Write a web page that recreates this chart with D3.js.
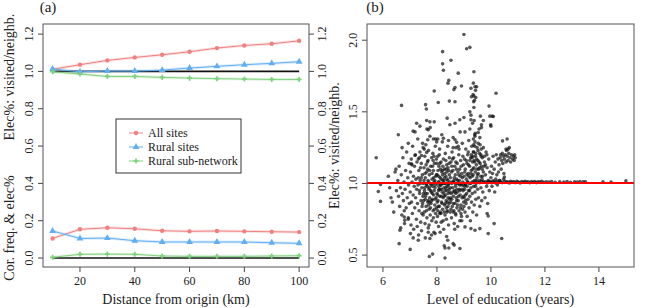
<!DOCTYPE html>
<html>
<head>
<meta charset="utf-8">
<script src="https://cdn.jsdelivr.net/npm/d3@7"></script>
<style>
  html, body { margin: 0; padding: 0; background: #fff; }
  svg { display: block; }
</style>
</head>
<body>
<div id="chart"></div>
<script>
// ---- panel (a) data ----
const distances = [10, 20, 30, 40, 50, 60, 70, 80, 90, 100]
const elecAll = [1.011, 1.036, 1.059, 1.075, 1.089, 1.105, 1.125, 1.139, 1.148, 1.164]
const elecRural = [1.013, 0.998, 1.002, 1.002, 1.007, 1.018, 1.027, 1.036, 1.043, 1.052]
const elecSub = [0.998, 0.986, 0.973, 0.973, 0.968, 0.964, 0.961, 0.959, 0.957, 0.957]
const corAll = [0.105, 0.154, 0.162, 0.157, 0.146, 0.143, 0.145, 0.143, 0.141, 0.139]
const corRural = [0.145, 0.105, 0.107, 0.093, 0.086, 0.086, 0.086, 0.086, 0.082, 0.079]
const corSub = [0.004, 0.02, 0.021, 0.02, 0.011, 0.009, 0.009, 0.009, 0.011, 0.0125]
const seriesNames = ['All sites', 'Rural sites', 'Rural sub-network']
const xTicksA = [20, 40, 60, 80, 100]
const yTicksA = [0, 0.2, 0.4, 0.6, 0.8, 1.0, 1.2]

// ---- panel (b) data: [education years, elec% ratio] ----
const highPts = [
  [9.0,2.04],[9.1,1.94],[9.22,1.95],[8.21,1.92],[8.52,1.86],[8.21,1.835],[8.24,1.79],[8.79,1.77],[9.37,1.78],
  [8.44,1.72],[8.41,1.70],[8.67,1.67],[8.63,1.655],[8.91,1.68],[9.35,1.70],[9.41,1.675],[9.26,1.665],[9.47,1.675],
  [9.43,1.65],[7.90,1.645],[10.19,1.63],[9.28,1.605],[9.37,1.61],[9.44,1.60],[9.36,1.57],[6.69,1.545],[7.58,1.55],
  [7.61,1.52],[8.05,1.565],[8.46,1.575],[8.67,1.57],[9.93,1.54],[10.05,1.47],[6.57,1.34],[6.94,1.28],[7.25,1.42],
  [7.37,1.40],[7.12,1.365],[7.62,1.44],[7.74,1.43],[7.90,1.43],[7.68,1.375],[7.75,1.39],[8.38,1.456],[8.48,1.41],
  [8.67,1.42],[8.85,1.445],[9.0,1.46],[9.22,1.5],[9.26,1.477],[9.26,1.445],[9.65,1.41],[9.72,1.44],[9.96,1.47],
  [10.09,1.467],[9.99,1.41],[10.0,1.40],[7.66,1.305],[7.87,1.31],[7.99,1.29],[8.24,1.315],[8.03,1.31],[8.67,1.305],
  [8.73,1.287],[8.60,1.25],[8.79,1.26],[9.04,1.36],[9.22,1.38],[9.41,1.33],[9.53,1.356],[9.65,1.39],[9.59,1.32],
  [7.49,1.25],[7.62,1.217],[7.43,1.195],[7.19,1.195],[7.06,1.137],[7.31,1.17],[10.43,1.297],[10.6,1.31],[10.68,1.25],
  [10.64,1.24],[10.56,1.24]
]
const lowPts = [
  [5.75,1.18],[5.83,0.944],[5.91,0.993],[5.91,0.875],[6.2,1.05],[6.3,0.9],[6.35,0.87],[6.45,1.08],[6.5,0.95],
  [6.48,1.1],[6.4,0.8],[6.25,0.97],[6.63,0.674],[6.6,0.58],[7.02,0.65],[7.01,0.54],[7.31,0.604],[7.57,0.62],
  [7.68,0.66],[7.72,0.49],[7.84,0.507],[8.3,0.48],[8.27,0.565],[8.3,0.55],[8.4,0.604],[8.44,0.55],[8.6,0.58],
  [8.64,0.57],[8.85,0.546],[7.93,0.65],[7.74,0.616],[9.04,0.697],[9.26,0.685],[9.41,0.674],[9.59,0.685],[9.9,0.65],
  [10.12,0.72],[10.4,0.616],[6.79,0.766],[6.94,0.75],[6.81,0.743],[9.86,0.79],[9.9,0.773]
]
const cloudPts = [
  [6.55,1.02],[6.58,0.91],[6.6,1.12],[6.62,0.84],[6.65,0.97],[6.68,1.06],[6.7,0.78],[6.72,0.93],[6.74,1.18],
  [6.76,0.88],[6.78,1.01],[6.8,0.72],[6.82,0.96],[6.84,1.09],[6.86,0.83],[6.88,1.22],[6.9,0.9],[6.92,1.04],
  [6.94,0.76],[6.95,0.99],[6.97,1.14],[6.98,0.86],[6.66,0.69],[6.71,1.25],[6.79,0.81],
  [7.01,0.94],[7.02,1.08],[7.04,0.71],[7.05,1.17],[7.06,0.87],[7.08,1.01],[7.09,0.79],[7.1,1.26],[7.12,0.92],
  [7.13,1.05],[7.14,0.68],[7.16,0.98],[7.17,1.12],[7.18,0.83],[7.2,1.2],[7.21,0.9],[7.22,1.03],[7.24,0.75],
  [7.25,0.96],[7.26,1.15],[7.28,0.86],[7.29,1.31],[7.3,0.99],[7.32,0.64],[7.33,1.09],[7.34,0.81],[7.36,0.93],
  [7.37,1.22],[7.38,1.02],[7.4,0.73],[7.41,0.88],[7.42,1.14],[7.44,0.97],[7.45,0.84],[7.46,1.06],[7.47,1.28],
  [7.48,0.91],[7.49,0.78],[7.12,0.62],[7.27,0.7],[7.35,1.18],[7.43,0.67],[7.19,1.36],[7.07,1.13],[7.39,1.0],
  [7.5,1.0],[7.51,0.88],[7.52,1.11],[7.53,0.8],[7.54,0.95],[7.55,1.19],[7.56,0.72],[7.57,1.04],[7.58,0.91],
  [7.59,1.27],[7.6,0.84],[7.61,0.99],[7.62,1.08],[7.63,0.76],[7.64,0.93],[7.65,1.15],[7.66,0.87],[7.67,1.02],
  [7.68,0.69],[7.69,1.23],[7.7,0.96],[7.71,0.82],[7.72,1.06],[7.73,0.9],[7.74,1.33],[7.75,0.78],[7.76,1.0],
  [7.77,1.12],[7.78,0.86],[7.79,0.94],[7.8,1.18],[7.81,0.74],[7.82,1.03],[7.83,0.89],[7.84,0.98],[7.85,1.21],
  [7.86,0.81],[7.87,1.09],[7.88,0.92],[7.89,0.66],[7.9,1.01],[7.91,1.14],[7.92,0.85],[7.93,0.97],[7.94,1.26],
  [7.95,0.79],[7.96,1.05],[7.97,0.9],[7.98,1.17],[7.99,0.83],[7.55,0.97],[7.62,1.0],[7.7,1.01],[7.78,0.99],
  [7.85,1.0],[7.92,1.02],[7.58,0.93],[7.66,1.1],[7.74,0.87],[7.82,1.07],[7.9,0.95],[7.97,0.73],[7.53,1.24],
  [7.63,1.38],[7.71,0.71],[7.87,0.76],[7.95,1.31],[7.8,0.64],[7.68,0.88],[7.86,1.16],
  [8.0,0.93],[8.01,1.06],[8.02,0.77],[8.03,1.19],[8.04,0.88],[8.05,1.01],[8.06,0.7],[8.07,1.12],[8.08,0.96],
  [8.09,0.84],[8.1,1.24],[8.11,0.91],[8.12,1.04],[8.13,0.8],[8.14,0.99],[8.15,1.15],[8.16,0.73],[8.17,0.87],
  [8.18,1.08],[8.19,0.94],[8.2,1.29],[8.21,0.82],[8.22,1.02],[8.23,0.9],[8.24,1.17],[8.25,0.68],[8.26,0.97],
  [8.27,1.1],[8.28,0.85],[8.29,1.0],[8.3,0.78],[8.31,1.21],[8.32,0.92],[8.33,1.05],[8.34,0.88],[8.35,0.75],
  [8.36,1.13],[8.37,0.95],[8.38,1.03],[8.39,0.81],[8.4,1.26],[8.41,0.9],[8.42,0.99],[8.43,0.71],[8.44,1.09],
  [8.45,0.86],[8.46,1.18],[8.47,0.94],[8.48,1.01],[8.49,0.8],[8.02,1.0],[8.08,1.01],[8.14,0.99],[8.2,1.0],
  [8.26,1.02],[8.32,1.0],[8.38,0.98],[8.44,1.0],[8.05,0.84],[8.11,1.14],[8.17,0.96],[8.23,0.74],[8.29,1.07],
  [8.35,0.83],[8.41,1.11],[8.47,0.89],[8.03,0.92],[8.09,1.2],[8.15,0.79],[8.21,1.06],[8.27,0.91],[8.33,1.16],
  [8.39,0.87],[8.45,0.96],[8.12,0.66],[8.36,0.63],[8.18,1.34],[8.43,1.3],[8.07,0.98],[8.3,0.95],
  [8.5,1.04],[8.51,0.87],[8.52,1.15],[8.53,0.93],[8.54,0.76],[8.55,1.0],[8.56,1.22],[8.57,0.84],[8.58,0.97],
  [8.59,1.09],[8.6,0.8],[8.61,0.91],[8.62,1.18],[8.63,1.02],[8.64,0.72],[8.65,0.95],[8.66,1.12],[8.67,0.86],
  [8.68,1.06],[8.69,0.98],[8.7,0.78],[8.71,1.25],[8.72,0.9],[8.73,1.03],[8.74,0.83],[8.75,1.14],[8.76,0.94],
  [8.77,0.7],[8.78,1.08],[8.79,0.88],[8.8,1.0],[8.81,1.2],[8.82,0.81],[8.83,0.96],[8.84,1.1],[8.85,0.74],
  [8.86,0.92],[8.87,1.05],[8.88,1.16],[8.89,0.85],[8.9,0.99],[8.91,0.77],[8.92,1.07],[8.93,0.9],[8.94,1.28],
  [8.95,0.82],[8.96,1.01],[8.97,0.95],[8.98,1.13],[8.99,0.87],[8.55,0.89],[8.62,1.01],[8.69,0.79],[8.76,1.0],
  [8.83,1.02],[8.9,1.0],[8.97,0.99],[8.58,1.17],[8.66,0.68],[8.74,0.96],[8.82,1.24],[8.92,0.74],[8.6,1.32],
  [8.86,1.36],[8.7,0.93],
  [9.0,1.05],[9.01,0.9],[9.02,1.17],[9.03,0.96],[9.04,0.8],[9.05,1.1],[9.06,0.99],[9.07,1.24],[9.08,0.86],
  [9.09,1.03],[9.1,0.93],[9.11,1.14],[9.12,0.77],[9.13,1.01],[9.14,1.2],[9.15,0.89],[9.16,1.07],[9.17,0.95],
  [9.18,1.3],[9.19,0.83],[9.2,1.0],[9.21,1.12],[9.22,0.91],[9.23,1.04],[9.24,0.74],[9.25,1.18],[9.26,0.97],
  [9.27,1.09],[9.28,0.87],[9.29,1.26],[9.3,1.01],[9.31,0.93],[9.32,1.15],[9.33,0.8],[9.34,1.06],[9.35,1.22],
  [9.36,0.98],[9.37,1.11],[9.38,0.85],[9.39,1.02],[9.4,1.34],[9.41,0.94],[9.42,1.08],[9.43,1.19],[9.44,0.89],
  [9.45,1.0],[9.46,1.13],[9.47,0.78],[9.48,1.04],[9.49,1.25],[9.05,1.0],[9.15,1.01],[9.25,1.0],[9.35,1.01],
  [9.45,1.02],
  [9.5,1.06],[9.51,0.96],[9.52,1.16],[9.53,1.28],[9.54,0.9],[9.55,1.1],[9.56,1.38],[9.57,1.02],[9.58,1.21],
  [9.59,0.84],[9.6,1.14],[9.61,1.47],[9.62,1.05],[9.63,0.97],[9.64,1.24],[9.65,1.12],[9.66,0.88],[9.67,1.03],
  [9.68,1.18],[9.7,0.94],[9.72,1.08],[9.74,1.01],[9.76,1.15],[9.78,0.9],[9.8,1.06],[9.82,1.22],[9.84,0.98],
  [9.86,1.11],[9.88,0.86],[9.9,1.02],[9.92,1.17],[9.94,0.95],[9.96,1.08],[9.98,1.01],[9.35,1.31],[9.38,1.44],
  [9.4,1.26],[9.33,1.19],[9.37,1.53],[9.42,1.35],[9.32,1.42],[9.39,1.58],[9.36,1.22],[9.41,1.29],[9.34,1.62],
  [10.0,1.04],[10.02,1.12],[10.04,0.98],[10.06,1.07],[10.08,1.19],[10.1,1.01],[10.12,1.1],[10.14,0.94],
  [10.16,1.15],[10.18,1.03],[10.2,1.2],[10.22,1.06],[10.24,0.99],[10.26,1.17],[10.28,1.08],[10.3,1.13],
  [10.32,1.02],[10.34,1.18],[10.36,1.2],[10.38,1.1],[10.4,1.16],[10.42,1.21],[10.44,1.14],[10.46,1.19],
  [10.48,1.07],[10.5,1.17],[10.53,1.2],[10.56,1.15],[10.6,1.19],[10.63,1.16],[10.66,1.21],[10.7,1.18],
  [10.73,1.15],[10.76,1.2],[10.8,1.17],[10.83,1.19],[10.86,1.16],[10.88,1.2],[10.9,1.18],[10.58,1.23]
]
const corePts = [
  [7.35,0.95],[7.42,1.04],[7.47,0.86],[7.52,1.02],[7.57,0.89],[7.6,1.13],[7.64,0.98],[7.69,0.85],[7.73,1.09],
  [7.77,0.95],[7.81,0.88],[7.84,1.12],[7.88,1.04],[7.91,0.82],[7.94,0.99],[7.98,1.06],[8.01,0.87],[8.04,1.09],
  [8.06,0.95],[8.1,0.79],[8.13,1.1],[8.16,1.03],[8.19,0.86],[8.22,1.12],[8.25,0.93],[8.28,1.04],[8.31,0.86],
  [8.34,1.1],[8.37,0.8],[8.4,1.02],[8.42,0.93],[8.46,1.06],[8.49,0.97],[8.52,0.82],[8.54,1.08],[8.57,1.01],
  [8.61,0.86],[8.64,1.04],[8.67,0.94],[8.7,1.15],[8.73,0.88],[8.77,1.02],[8.8,0.91],[8.84,0.99],[8.87,0.83],
  [8.9,1.12],[8.93,0.96],[8.96,1.19],[9.0,0.84],[9.03,1.08],[9.06,0.92],[9.09,1.16],[9.12,0.98],[9.16,1.22],
  [9.19,1.05],[9.22,1.16],[9.26,1.07],[9.3,1.18],[9.33,1.1],[9.36,1.27],[9.4,1.15],[9.44,1.21],[9.48,1.1],
  [9.52,1.23],[9.56,1.15],[9.6,1.27],[9.64,1.19],[9.68,1.1],[9.72,1.25],[9.76,1.19],[9.8,1.13],[9.85,1.2],
  [7.31,1.04],[7.39,1.11],[7.44,0.79],[7.5,0.93],[7.56,1.07],[7.61,0.81],[7.67,1.16],[7.72,0.97],[7.76,0.83],
  [7.83,0.93],[7.89,1.19],[7.93,0.89],[8.0,1.14],[8.03,0.81],[8.07,1.05],[8.12,0.96],[8.16,0.91],[8.2,1.09],
  [8.24,1.0],[8.27,0.8],[8.33,0.97],[8.37,1.08],[8.41,0.84],[8.45,1.14],[8.5,0.9],[8.55,1.12],[8.59,0.94],
  [8.63,0.81],[8.68,1.0],[8.72,1.1],[8.77,0.85],[8.81,1.06],[8.85,0.95],[8.89,0.79],[8.94,1.04],[8.98,0.91],
  [9.02,0.98],[9.07,0.88],[9.11,1.06],[9.17,1.13],[9.21,0.95],[9.27,1.2],[9.31,1.05],[9.38,1.16],[9.43,0.98],
  [9.47,1.17],[9.53,1.07],[9.58,1.11],[9.63,1.2],[9.69,1.05],[9.75,1.12]
]
const flatPts = [
  [9.5,1.01],[9.58,1.005],[9.65,1.015],[9.72,1.008],[9.8,1.012],[9.86,1.004],[9.92,1.016],[9.98,1.01],
  [10.03,1.006],[10.08,1.018],[10.12,1.01],[10.17,1.004],[10.22,1.014],[10.27,1.008],[10.32,1.02],[10.37,1.01],
  [10.42,1.006],[10.47,1.03],[10.5,1.045],[10.52,1.015],[10.57,1.008],[10.62,1.012],[10.68,1.004],[10.73,1.016],
  [10.78,1.009],[10.84,1.013],[10.9,1.006],[10.96,1.015],[11.02,1.01],[11.08,1.004],[11.14,1.014],[11.2,1.008],
  [11.26,1.016],[11.32,1.01],[11.38,1.012],[11.44,1.005],[11.5,1.014],[11.56,1.009],[11.62,1.013],[11.68,1.006],
  [11.74,1.012],[11.8,1.01],[11.88,1.015],[11.96,1.008],[12.05,1.012],[12.15,1.01],[12.25,1.014],[12.38,1.008],
  [12.55,1.012],[12.7,1.01],[12.82,1.013],[12.95,1.009],[13.1,1.012],[13.2,1.01],[13.3,1.013],[13.42,1.011],
  [13.5,1.012],[14.15,1.012],[14.45,1.01],[15.0,1.018]
]
const xTicksB = [6, 8, 10, 12, 14]
const yTicksB = [0.5, 1.0, 1.5, 2.0]

const W = 650, H = 308
const colors = ['#f08080', '#62aef0', '#7ed07e']
const FONT = 'Liberation Serif'

const svg = d3.select('#chart').append('svg')
  .attr('width', W).attr('height', H)
  .attr('font-family', FONT)
  .style('font-family', FONT)

// ---------- panel (a) ----------
const boxA = { left: 43, right: 309, top: 24, bottom: 267 }
const xA = d3.scaleLinear().domain([6.5, 103.6]).range([boxA.left, boxA.right])
const yA = d3.scaleLinear().domain([-0.048, 1.254]).range([boxA.bottom, boxA.top])

const pa = svg.append('g')

const drawYTicks = (g, scale, ticks, x0, side, fmt) => {
  ticks.forEach((t) => {
    const y = scale(t)
    g.append('line')
      .attr('x1', x0).attr('x2', x0 + side * 5)
      .attr('y1', y).attr('y2', y)
      .attr('stroke', '#444').attr('stroke-width', 1)
    const bx = side < 0 ? x0 - 10 : x0 + 17
    g.append('text')
      .attr('transform', `translate(${bx},${y}) rotate(-90)`)
      .attr('text-anchor', 'middle')
      .attr('font-size', 12)
      .attr('fill', '#222')
      .text(fmt(t))
  })
}
const drawXTicks = (g, scale, ticks, y0) => {
  ticks.forEach((t) => {
    const x = scale(t)
    g.append('line')
      .attr('x1', x).attr('x2', x)
      .attr('y1', y0).attr('y2', y0 + 5)
      .attr('stroke', '#444').attr('stroke-width', 1)
    g.append('text')
      .attr('x', x).attr('y', y0 + 18)
      .attr('text-anchor', 'middle')
      .attr('font-size', 12)
      .attr('fill', '#222')
      .text(t)
  })
}

const fmt1 = d3.format('.1f')
drawYTicks(pa, yA, yTicksA, boxA.left, -1, fmt1)
drawYTicks(pa, yA, yTicksA, boxA.right, 1, fmt1)
drawXTicks(pa, xA, xTicksA, boxA.bottom)

// reference lines
;[1, 0].forEach((v) => {
  pa.append('line')
    .attr('x1', xA(10)).attr('x2', xA(100))
    .attr('y1', yA(v)).attr('y2', yA(v))
    .attr('stroke', '#111').attr('stroke-width', 1.6)
})

const lineA = d3.line().x((d) => xA(d[0])).y((d) => yA(d[1]))
const groups = [
  [elecAll, corAll],
  [elecRural, corRural],
  [elecSub, corSub]
]
const symbols = [d3.symbolCircle, d3.symbolTriangle, d3.symbolCross]
const symSizes = [15, 20, 14]

groups.forEach((pair, i) => {
  pair.forEach((vals) => {
    const pts = distances.map((d, j) => [d, vals[j]])
    pa.append('path').datum(pts)
      .attr('d', lineA).attr('fill', 'none')
      .attr('stroke', colors[i]).attr('stroke-opacity', 0.22).attr('stroke-width', 3)
    pa.append('path').datum(pts)
      .attr('d', lineA).attr('fill', 'none')
      .attr('stroke', colors[i]).attr('stroke-width', 1)
    pa.selectAll(null).data(pts).enter().append('path')
      .attr('transform', (d) => `translate(${xA(d[0])},${yA(d[1])})`)
      .attr('d', d3.symbol().type(symbols[i]).size(symSizes[i]))
      .attr('fill', colors[i])
  })
})

// legend
const lg = pa.append('g')
lg.append('rect')
  .attr('x', 116).attr('y', 119).attr('width', 125).attr('height', 54)
  .attr('fill', '#fff').attr('stroke', '#333').attr('stroke-width', 1)
seriesNames.forEach((name, i) => {
  const y = 133 + i * 14
  lg.append('line').attr('x1', 129).attr('x2', 143).attr('y1', y).attr('y2', y)
    .attr('stroke', colors[i]).attr('stroke-width', 1)
  lg.append('path').attr('transform', `translate(136,${y})`)
    .attr('d', d3.symbol().type(symbols[i]).size(symSizes[i]))
    .attr('fill', colors[i])
  lg.append('text').attr('x', 148).attr('y', y + 4)
    .attr('font-size', 12).attr('fill', '#222').text(name)
})

pa.append('rect')
  .attr('x', boxA.left).attr('y', boxA.top)
  .attr('width', boxA.right - boxA.left).attr('height', boxA.bottom - boxA.top)
  .attr('fill', 'none').attr('stroke', '#555').attr('stroke-width', 1)

pa.append('text').attr('x', 48).attr('y', 12).attr('text-anchor', 'middle')
  .attr('font-size', 15).attr('fill', '#222').text('(a)')
pa.append('text').attr('transform', 'translate(14,77) rotate(-90)')
  .attr('text-anchor', 'middle').attr('font-size', 14).attr('fill', '#222')
  .text('Elec%: visited/neighb.')
pa.append('text').attr('transform', 'translate(14,228) rotate(-90)')
  .attr('text-anchor', 'middle').attr('font-size', 14).attr('fill', '#222')
  .text('Cor. freq. & elec%')
pa.append('text').attr('x', (boxA.left + boxA.right) / 2).attr('y', 304)
  .attr('text-anchor', 'middle').attr('font-size', 14).attr('fill', '#222')
  .text('Distance from origin (km)')

// ---------- panel (b) ----------
const boxB = { left: 367, right: 634, top: 24, bottom: 267 }
const xB = d3.scaleLinear().domain([5.41, 15.3]).range([boxB.left, boxB.right])
const yB = d3.scaleLinear().domain([0.417, 2.113]).range([boxB.bottom, boxB.top])

const pb = svg.append('g')
drawYTicks(pb, yB, yTicksB, boxB.left, -1, fmt1)
drawXTicks(pb, xB, xTicksB, boxB.bottom)

const allPts = cloudPts.concat(corePts, highPts, lowPts, flatPts)
pb.selectAll('circle.pt').data(allPts).enter().append('circle')
  .attr('class', 'pt')
  .attr('cx', (d) => xB(d[0])).attr('cy', (d) => yB(d[1]))
  .attr('r', 1.8)
  .attr('fill', '#111').attr('fill-opacity', 0.7)

// abline at 1, pixel-snapped so it stays bright red
const yOne = Math.round(yB(1))
pb.append('line')
  .attr('x1', boxB.left).attr('x2', boxB.right)
  .attr('y1', yOne).attr('y2', yOne)
  .attr('stroke', '#ff0000').attr('stroke-width', 2)

pb.append('rect')
  .attr('x', boxB.left).attr('y', boxB.top)
  .attr('width', boxB.right - boxB.left).attr('height', boxB.bottom - boxB.top)
  .attr('fill', 'none').attr('stroke', '#555').attr('stroke-width', 1)

pb.append('text').attr('x', 375).attr('y', 12).attr('text-anchor', 'middle')
  .attr('font-size', 15).attr('fill', '#222').text('(b)')
pb.append('text').attr('transform', `translate(339,${(boxB.top + boxB.bottom) / 2}) rotate(-90)`)
  .attr('text-anchor', 'middle').attr('font-size', 14).attr('fill', '#222')
  .text('Elec%: visited/neighb.')
pb.append('text').attr('x', (boxB.left + boxB.right) / 2).attr('y', 304)
  .attr('text-anchor', 'middle').attr('font-size', 14).attr('fill', '#222')
  .text('Level of education (years)')
</script>
</body>
</html>
